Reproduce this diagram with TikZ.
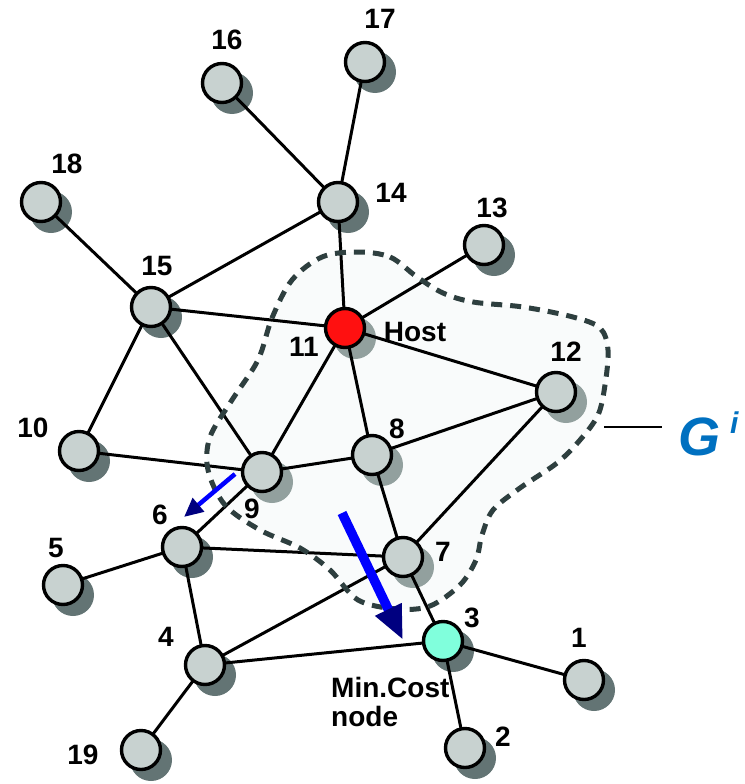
\documentclass[tikz,border=0pt]{standalone}
\usepackage{fontspec}
\setmainfont{Liberation Sans}
\usetikzlibrary{arrows.meta}
\definecolor{nodefill}{HTML}{C8D2D0}
\definecolor{shdark}{HTML}{637474}
\definecolor{shlight}{HTML}{92A09E}
\definecolor{gfill}{HTML}{F9FBFB}
\definecolor{dashcol}{HTML}{2E3F3F}
\definecolor{gblue}{HTML}{0070C0}
\definecolor{hostred}{HTML}{FF1010}
\definecolor{mincost}{HTML}{80FFDC}
\definecolor{navyhead}{HTML}{000080}
\tikzset{
  vtx/.style={circle, draw=black, line width=3.4, fill=nodefill, minimum size=39, inner sep=0},
  shd/.style={circle, fill=shdark, minimum size=42, inner sep=0},
  shdl/.style={circle, fill=shlight, minimum size=42, inner sep=0},
  edge/.style={draw=black, line width=3},
  lbl/.style={font=\fontsize{28}{30}\selectfont\bfseries, inner sep=0},
  region/.style={draw=dashcol, line width=5, dash pattern=on 11 off 8, fill=gfill},
  move/.style={draw=blue, line cap=butt}
}
\begin{document}
\begin{tikzpicture}[x=1pt,y=-1pt]
\useasboundingbox (0,0) rectangle (744,784);
% region G
\path[fill=gfill] plot[smooth cycle, tension=0.55] coordinates {
 (357,252) (390,257) (417,277) (443,293) (473,302) (523,307) (573,317) (600,328)
 (608,350) (605,385) (598,415) (580,440) (557,463) (520,488) (493,510) (482,535)
 (476,560) (460,585) (430,606) (397,609) (358,600) (330,570) (300,548) (260,530)
 (225,505) (208,470) (210,437) (232,400) (258,360) (272,318) (292,280) (322,257)};
% coordinates of the nodes
\coordinate (p16) at (222,83);
\coordinate (p17) at (365,62);
\coordinate (p14) at (338,202);
\coordinate (p18) at (41,202);
\coordinate (p15) at (151,307);
\coordinate (p11) at (345,328);
\coordinate (p13) at (484,245);
\coordinate (p12) at (556,392);
\coordinate (p10) at (79,451);
\coordinate (p8) at (372,455);
\coordinate (p9) at (262,472);
\coordinate (p6) at (182,547);
\coordinate (p7) at (403,557);
\coordinate (p5) at (63,585);
\coordinate (p4) at (205,665);
\coordinate (p3) at (443,641);
\coordinate (p1) at (584,680);
\coordinate (p19) at (141,750);
\coordinate (p2) at (465,748);
% shadows
\foreach \p in {16,17,14,18,15,13,10,6,5,4,3,1,19,2}{
  \node[shd] (s\p) at ([shift={(10,10)}]p\p) {};
}
\foreach \p in {11,12,8,9,7}{
  \node[shdl] (s\p) at ([shift={(10,10)}]p\p) {};
}
% edges
\foreach \a/\b in {16/14,17/14,14/15,14/11,18/15,15/11,15/10,15/9,11/13,11/12,11/9,11/8,
  12/8,12/7,10/9,9/8,9/6,8/7,6/7,6/5,6/4,7/4,7/3,4/3,4/19,3/1,3/2}{
  \draw[edge] (p\a) -- (p\b);
}
% dashed boundary
\draw[region, fill=none] plot[smooth cycle, tension=0.55] coordinates {
 (357,252) (390,257) (417,277) (443,293) (473,302) (523,307) (573,317) (600,328)
 (608,350) (605,385) (598,415) (580,440) (557,463) (520,488) (493,510) (482,535)
 (476,560) (460,585) (430,606) (397,609) (358,600) (330,570) (300,548) (260,530)
 (225,505) (208,470) (210,437) (232,400) (258,360) (272,318) (292,280) (322,257)};
% nodes
\foreach \p in {16,17,14,18,15,13,12,10,8,9,6,7,5,4,1,19,2}{
  \node[vtx] (n\p) at (p\p) {};
}
\node[vtx, fill=hostred] (n11) at (p11) {};
\node[vtx, fill=mincost] (n3) at (p3) {};
% labels
\node[lbl] (l16) at (227,40) {16};
\node[lbl] (l17) at (380,19) {17};
\node[lbl] (l18) at (67,164) {18};
\node[lbl] (l14) at (391,193) {14};
\node[lbl] (l15) at (157,266) {15};
\node[lbl] (l13) at (492,208) {13};
\node[lbl] (lhost) at (415,332) {Host};
\node[lbl] (l11) at (304,347) {11};
\node[lbl] (l12) at (566,352) {12};
\node[lbl] (l8) at (397,429) {8};
\node[lbl] (l9) at (252,509) {9};
\node[lbl] (l7) at (443,552) {7};
\node[lbl] (l10) at (33,428) {10};
\node[lbl] (l6) at (160,515) {6};
\node[lbl] (l5) at (56,548) {5};
\node[lbl] (l4) at (166,637) {4};
\node[lbl] (l3) at (472,618) {3};
\node[lbl] (l1) at (579,638) {1};
\node[lbl] (l19) at (83,755) {19};
\node[lbl] (l2) at (503,737) {2};
\node[lbl, anchor=base west] (lmin) at (331,697) {Min.Cost};
\node[lbl, anchor=base west] (lnode) at (331,726) {node};
% G^i label
\coordinate (gtick) at (604,427);
\node[inner sep=0, anchor=base, text=gblue, font=\fontsize{54}{60}\selectfont\bfseries\itshape] (gl) at (699,455) {G};
\node[inner sep=0, anchor=base west, text=gblue, font=\fontsize{30}{34}\selectfont\bfseries\itshape] (gi) at (730,433) {i};
\draw[line width=1.8] (gtick) -- ([xshift=58]gtick);
% moves
\coordinate (a1s) at (235,474);
\coordinate (a1e) at (184,517);
\draw[move, line width=4.5, -{Triangle[length=19,width=17,color=navyhead]}] (a1s) -- (a1e);
\coordinate (a2s) at (342,513);
\coordinate (a2e) at (403,640);
\draw[move, line width=9.5, -{Triangle[length=34,width=27,color=navyhead]}] (a2s) -- (a2e);
\end{tikzpicture}
\end{document}
